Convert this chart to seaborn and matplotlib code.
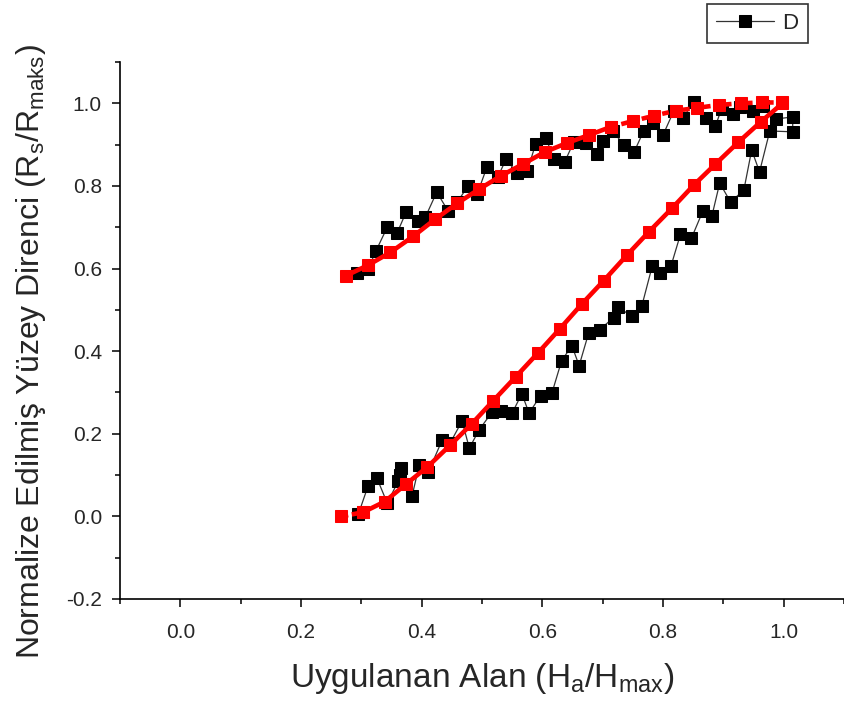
import matplotlib
matplotlib.use("Agg")
import matplotlib.pyplot as plt
import seaborn as sns
import pandas as pd
import numpy as np
from matplotlib.ticker import MultipleLocator

#%% data

# black measured points, lower branch (increasing field)
low_x = [0.295, 0.311, 0.326, 0.343, 0.361, 0.364, 0.366, 0.384, 0.396, 0.411,
         0.434, 0.447, 0.467, 0.479, 0.495, 0.517, 0.531, 0.550, 0.566, 0.578,
         0.597, 0.616, 0.632, 0.649, 0.661, 0.677, 0.695, 0.718, 0.725, 0.748,
         0.765, 0.782, 0.795, 0.813, 0.829, 0.847, 0.866, 0.881, 0.894, 0.912,
         0.934, 0.947, 0.960, 0.977, 1.015, 1.015, 0.987]
low_y = [0.005, 0.073, 0.092, 0.032, 0.085, 0.100, 0.117, 0.049, 0.124, 0.107,
         0.185, 0.177, 0.231, 0.165, 0.209, 0.253, 0.255, 0.250, 0.297, 0.250,
         0.292, 0.299, 0.377, 0.413, 0.365, 0.445, 0.452, 0.481, 0.508, 0.484,
         0.510, 0.605, 0.590, 0.605, 0.683, 0.673, 0.739, 0.727, 0.807, 0.761,
         0.790, 0.887, 0.834, 0.933, 0.931, 0.967, 0.962]

# black measured points, upper branch (decreasing field)
up_x = [0.965, 0.949, 0.927, 0.916, 0.897, 0.887, 0.871, 0.851, 0.833, 0.818,
        0.800, 0.783, 0.768, 0.752, 0.735, 0.717, 0.700, 0.690, 0.672, 0.652,
        0.637, 0.619, 0.606, 0.589, 0.575, 0.558, 0.540, 0.526, 0.508, 0.492,
        0.477, 0.459, 0.444, 0.425, 0.406, 0.394, 0.374, 0.359, 0.343, 0.324,
        0.311, 0.293]
up_y = [0.994, 0.982, 0.990, 0.975, 0.987, 0.945, 0.965, 1.003, 0.965, 0.982,
        0.923, 0.953, 0.933, 0.882, 0.899, 0.933, 0.909, 0.877, 0.904, 0.906,
        0.858, 0.865, 0.916, 0.902, 0.836, 0.831, 0.865, 0.821, 0.845, 0.780,
        0.800, 0.761, 0.739, 0.785, 0.724, 0.715, 0.736, 0.685, 0.700, 0.642,
        0.598, 0.590]

# red fitted curve, lower branch
fit_low_x = [0.267, 0.303, 0.339, 0.374, 0.409, 0.447, 0.483, 0.518, 0.556, 0.593,
             0.629, 0.666, 0.702, 0.740, 0.776, 0.815, 0.851, 0.887, 0.925, 0.962, 0.998]
fit_low_y = [0.000, 0.010, 0.036, 0.078, 0.119, 0.172, 0.224, 0.279, 0.338, 0.396,
             0.454, 0.515, 0.571, 0.632, 0.688, 0.746, 0.802, 0.853, 0.906, 0.955, 1.000]

# red fitted curve, upper branch
fit_up_x = [0.275, 0.311, 0.348, 0.386, 0.422, 0.459, 0.495, 0.531, 0.568, 0.604,
            0.641, 0.677, 0.714, 0.750, 0.785, 0.821, 0.857, 0.892, 0.929, 0.964, 0.998]
fit_up_y = [0.583, 0.608, 0.639, 0.678, 0.719, 0.758, 0.792, 0.824, 0.853, 0.882,
            0.904, 0.923, 0.943, 0.957, 0.970, 0.982, 0.989, 0.996, 1.000, 1.002, 1.002]

x_ticks = [0.0, 0.2, 0.4, 0.6, 0.8, 1.0]
y_ticks = [-0.2, 0.0, 0.2, 0.4, 0.6, 0.8, 1.0]

#%% plotting

sns.set_style("ticks")
plt.rcParams['font.family'] = ['Liberation Sans', 'DejaVu Sans']
plt.rcParams['mathtext.default'] = 'regular'

meas = pd.DataFrame({'x': low_x + up_x, 'y': low_y + up_y})
fit_low = pd.DataFrame({'x': fit_low_x, 'y': fit_low_y})
fit_up = pd.DataFrame({'x': fit_up_x, 'y': fit_up_y})

fig = plt.figure(figsize=(8.44, 7.02), dpi=100)
ax = fig.add_axes([120/844, 1 - 599/702, 724/844, 537/702])

sns.lineplot(data=meas, x='x', y='y', sort=False, estimator=None, ax=ax,
             color='#333333', linewidth=0.9, marker='s', markersize=8.5,
             markerfacecolor='black', markeredgecolor='black', label='D')

red_kw = dict(sort=False, estimator=None, ax=ax, color='red', linewidth=3.3,
              marker='s', markersize=8, markeredgecolor='red', legend=False)
sns.lineplot(data=fit_low.iloc[:2], x='x', y='y', linestyle=(0, (1.5, 0.8)), **red_kw)
sns.lineplot(data=fit_low.iloc[1:], x='x', y='y', **red_kw)
sns.lineplot(data=fit_up.iloc[:13], x='x', y='y', **red_kw)
sns.lineplot(data=fit_up.iloc[12:], x='x', y='y', linestyle=(0, (1.5, 0.8)), **red_kw)

ax.set_xlim(-0.1, 1.1)
ax.set_ylim(-0.2, 1.1)
ax.set_xticks(x_ticks)
ax.set_yticks(y_ticks)
ax.set_xticklabels(["{:.1f}".format(v) for v in x_ticks])
ax.set_yticklabels(["{:.1f}".format(v) for v in y_ticks])
ax.xaxis.set_minor_locator(MultipleLocator(0.1))
ax.yaxis.set_minor_locator(MultipleLocator(0.1))
ax.tick_params(which='major', length=6, width=1.1, labelsize=15, color='black')
ax.tick_params(axis='x', which='major', pad=11)
ax.tick_params(axis='y', which='major', pad=7)
ax.tick_params(which='minor', length=3.5, width=1.1, color='black')

for s in ['top', 'right']:
    ax.spines[s].set_visible(False)
for s in ['left', 'bottom']:
    ax.spines[s].set_linewidth(1.2)
    ax.spines[s].set_color('black')

ax.set_xlabel('Uygulanan Alan (H$_a$/H$_{max}$)', fontsize=24)
ax.set_ylabel('Normalize Edilmiş Yüzey Direnci (R$_s$/R$_{maks}$)', fontsize=23)
ax.xaxis.set_label_coords(0.5, -0.115)
ax.yaxis.set_label_coords(-0.1, 0.46)

leg = ax.legend(loc='upper left', bbox_to_anchor=(707/844, 1 - 4/702),
                bbox_transform=fig.transFigure, frameon=True, fancybox=False,
                edgecolor='black', fontsize=16, handlelength=2.6, borderpad=0.4,
                handletextpad=0.4, borderaxespad=0)
leg.get_frame().set_linewidth(1.2)

fig.savefig('out.png', dpi=100)
